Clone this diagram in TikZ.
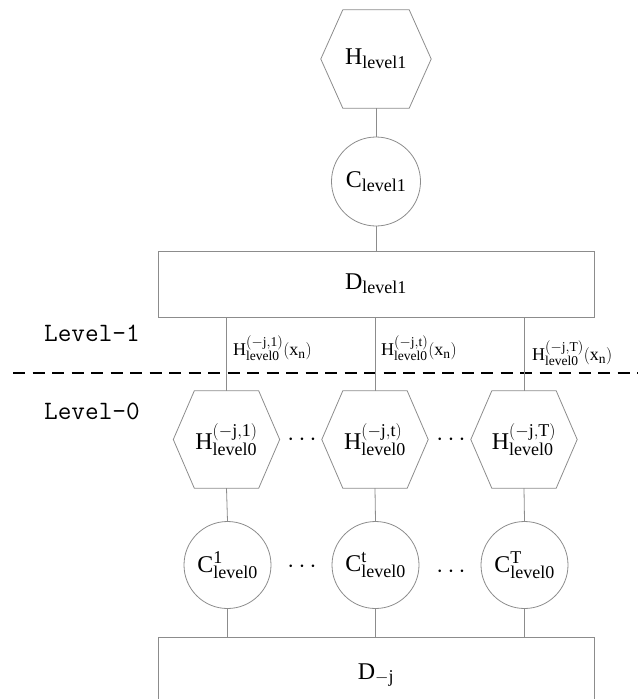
\documentclass[tikz,border=0pt]{standalone}
\usepackage{fontspec}
\setmainfont{Liberation Serif}
\setmathrm{Liberation Serif}
\DeclareMathSizes{24}{24}{18}{13}
\DeclareMathSizes{18}{18}{13.5}{10}
\definecolor{lgray}{HTML}{8C8C8C}
\tikzset{
  shapeline/.style={draw=lgray, line width=0.8pt},
  conn/.style={draw=lgray, line width=0.8pt},
  hexbox/.style={inner sep=0pt, font=\fontsize{24}{26}\selectfont},
  circbox/.style={circle, shapeline, inner sep=0pt, font=\fontsize{24}{26}\selectfont},
  rectbox/.style={rectangle, shapeline, inner sep=0pt, font=\fontsize{24}{26}\selectfont},
  elabel/.style={anchor=west, inner sep=0pt, font=\fontsize{18}{20}\selectfont},
  levlabel/.style={anchor=west, inner sep=0pt, font=\ttfamily\fontsize{26.5}{28}\selectfont},
  dotsnode/.style={inner sep=0pt, font=\fontsize{24}{26}\selectfont},
}
\newcommand{\hexdraw}[2]{%
  \draw[shapeline] (#1.west) -- ([xshift=#2]#1.north west) -- ([xshift=-#2]#1.north east) -- (#1.east) -- ([xshift=-#2]#1.south east) -- ([xshift=#2]#1.south west) -- cycle;}
\begin{document}
\begin{tikzpicture}[x=1pt, y=-1pt]
\useasboundingbox (0,0) rectangle (638,699);
\clip (0,0) rectangle (638,699);
% level 1
\node[hexbox, minimum width=110pt, minimum height=98pt] (h1) at (376,59) {$\mathrm{H_{level1}}$};
\hexdraw{h1}{22pt}
\node[circbox, minimum size=89pt] (c1) at (376,181.5) {$\mathrm{C_{level1}}$};
\node[rectbox, minimum width=436pt, minimum height=66pt] (d1) at (376,284) {$\mathrm{D_{level1}}$};
\draw[conn] (h1.south) -- (c1.north);
\draw[conn] (c1.south) -- (d1.north);
% level labels
\node[levlabel] (lv1) at (44,333) {Level-1};
\node[levlabel] (lv0) at (44,411) {Level-0};
\coordinate (dl) at (13,373);
\coordinate (dr) at (638,373);
\draw[black, line width=1.8pt, dash pattern=on 12pt off 7.5pt] (dl) -- (dr);
% level 0 hexagons
\node[hexbox, minimum width=106pt, minimum height=97pt] (ha) at (226.5,439.5) {$\mathrm{H^{(-j,1)}_{level0}}$};
\node[hexbox, minimum width=106pt, minimum height=97pt] (hb) at (375,439.5) {$\mathrm{H^{(-j,t)}_{level0}}$};
\node[hexbox, minimum width=106pt, minimum height=97pt] (hc) at (524,439.5) {$\mathrm{H^{(-j,T)}_{level0}}$};
\hexdraw{ha}{21pt}
\hexdraw{hb}{21pt}
\hexdraw{hc}{21pt}
\node[dotsnode] (dh1) at (302,440) {$\cdots$};
\node[dotsnode] (dh2) at (451,440) {$\cdots$};
% connectors from D_level1 to hexagons
\draw[conn] (d1.south -| ha.north) -- (ha.north);
\draw[conn] (d1.south -| hb.north) -- (hb.north);
\draw[conn] (d1.south -| hc.north) -- (hc.north);
\node[elabel] (la) at (233,348) {$\mathrm{H^{(-j,1)}_{level0}(x_n)}$};
\node[elabel] (lb) at (381,348) {$\mathrm{H^{(-j,t)}_{level0}(x_n)}$};
\node[elabel] (lc) at (532,353) {$\mathrm{H^{(-j,T)}_{level0}(x_n)}$};
% level 0 circles
\node[circbox, minimum size=87pt] (ca) at (227.5,565) {$\mathrm{C^{1}_{level0}}$};
\node[circbox, minimum size=87pt] (cb) at (375.5,565) {$\mathrm{C^{t}_{level0}}$};
\node[circbox, minimum size=87pt] (cc) at (524.5,565) {$\mathrm{C^{T}_{level0}}$};
\node[dotsnode] (dc1) at (302,567) {$\cdots$};
\node[dotsnode] (dc2) at (451,572) {$\cdots$};
\draw[conn] (ha.south) -- (ca.north);
\draw[conn] (hb.south) -- (cb.north);
\draw[conn] (hc.south) -- (cc.north);
% bottom rectangle
\node[rectbox, minimum width=436pt, minimum height=90pt] (d0) at (376,682) {};
\node[inner sep=0pt, font=\fontsize{24}{26}\selectfont] (d0t) at (376,675) {$\mathrm{D_{-j}}$};
\draw[conn] (ca.south) -- (ca.south |- d0.north);
\draw[conn] (cb.south) -- (cb.south |- d0.north);
\draw[conn] (cc.south) -- (cc.south |- d0.north);
\end{tikzpicture}
\end{document}
